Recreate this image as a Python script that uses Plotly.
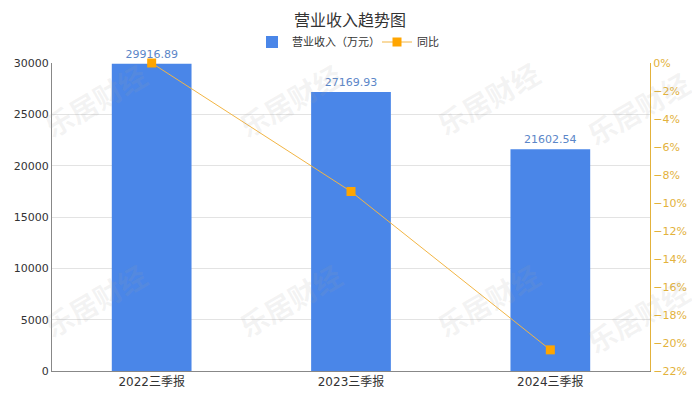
import plotly.graph_objects as go

categories = ["2022三季报", "2023三季报", "2024三季报"]
revenue = [29916.89, 27169.93, 21602.54]
yoy = [0.0, -9.18, -20.49]
revenue_labels = ["29916.89", "27169.93", "21602.54"]

FONT = "DejaVu Sans, Noto Sans CJK SC, sans-serif"
BLUE = "#4A86E8"
GOLD = "#E3B23C"

# page body has an 8px offset; figure sized so the window shows the same frame
OFF = 8
W, H = 700 - OFF, 400 - OFF
L, R, T, B = 52 - OFF, 50, 63 - OFF, 29
pw, ph = W - L - R, H - T - B

fig = go.Figure()
fig.add_trace(go.Bar(
    x=categories, y=revenue, name="营业收入（万元）",
    marker=dict(color=BLUE, line=dict(width=0)), width=0.4,
    text=revenue_labels, textposition="outside",
    textfont=dict(color="#5B86C8", size=11, family=FONT),
    cliponaxis=False, yaxis="y",
))
fig.add_trace(go.Scatter(
    x=categories, y=yoy, name="同比", mode="lines+markers",
    line=dict(color="#F2B544", width=1),
    marker=dict(symbol="square", size=9, color="#FFA500"),
    yaxis="y2", cliponaxis=False,
))

wm_pos = [(95, 100), (290, 100), (488, 98), (638, 108),
          (95, 300), (290, 300), (488, 300), (638, 316)]
annotations = []
for (ax, ay) in wm_pos:
    annotations.append(dict(
        x=(ax - OFF - L) / pw, y=1 - (ay - OFF - T) / ph, xref="paper", yref="paper",
        text="<b>乐居财经</b>", showarrow=False, textangle=-30,
        font=dict(size=28, color="rgba(160,160,160,0.13)", family="Noto Sans CJK SC"),
        xanchor="center", yanchor="middle",
    ))

fig.update_layout(
    width=W, height=H,
    margin=dict(l=L, r=R, t=T, b=B, autoexpand=False),
    paper_bgcolor="white", plot_bgcolor="white",
    font=dict(family=FONT, size=11, color="#333"),
    title=dict(text="营业收入趋势图", x=(350 - OFF) / W, xanchor="center", xref="container",
               y=1 - (20 - OFF) / H, yanchor="middle", yref="container",
               font=dict(size=16, color="#333", family="Noto Sans CJK SC")),
    legend=dict(orientation="h", x=(252 - OFF) / W, xanchor="left", xref="container",
                y=1 - (42 - OFF) / H, yanchor="middle", yref="container",
                font=dict(size=11, color="#333", family="Noto Sans CJK SC"),
                itemwidth=30, entrywidth=80, entrywidthmode="pixels",
                bgcolor="rgba(0,0,0,0)"),
    xaxis=dict(type="category", range=[-0.5, 2.5], showgrid=False, automargin=False,
               showline=True, linecolor="#888", linewidth=1, ticks="",
               tickfont=dict(size=12, color="#333", family=FONT)),
    yaxis=dict(range=[0, 30000], dtick=5000, tickformat="d", showgrid=True, gridcolor="#e3e3e3",
               showline=True, linecolor="#888", linewidth=1, zeroline=False, automargin=False,
               tickfont=dict(size=11, color="#333"), ticks=""),
    yaxis2=dict(range=[-22, 0], dtick=2, overlaying="y", side="right", automargin=False,
                showgrid=False, zeroline=False, showline=True, linecolor=GOLD, linewidth=1,
                ticksuffix="%", tickfont=dict(size=11, color=GOLD), ticks=""),
    annotations=annotations,
)

fig.write_html("out.html")
